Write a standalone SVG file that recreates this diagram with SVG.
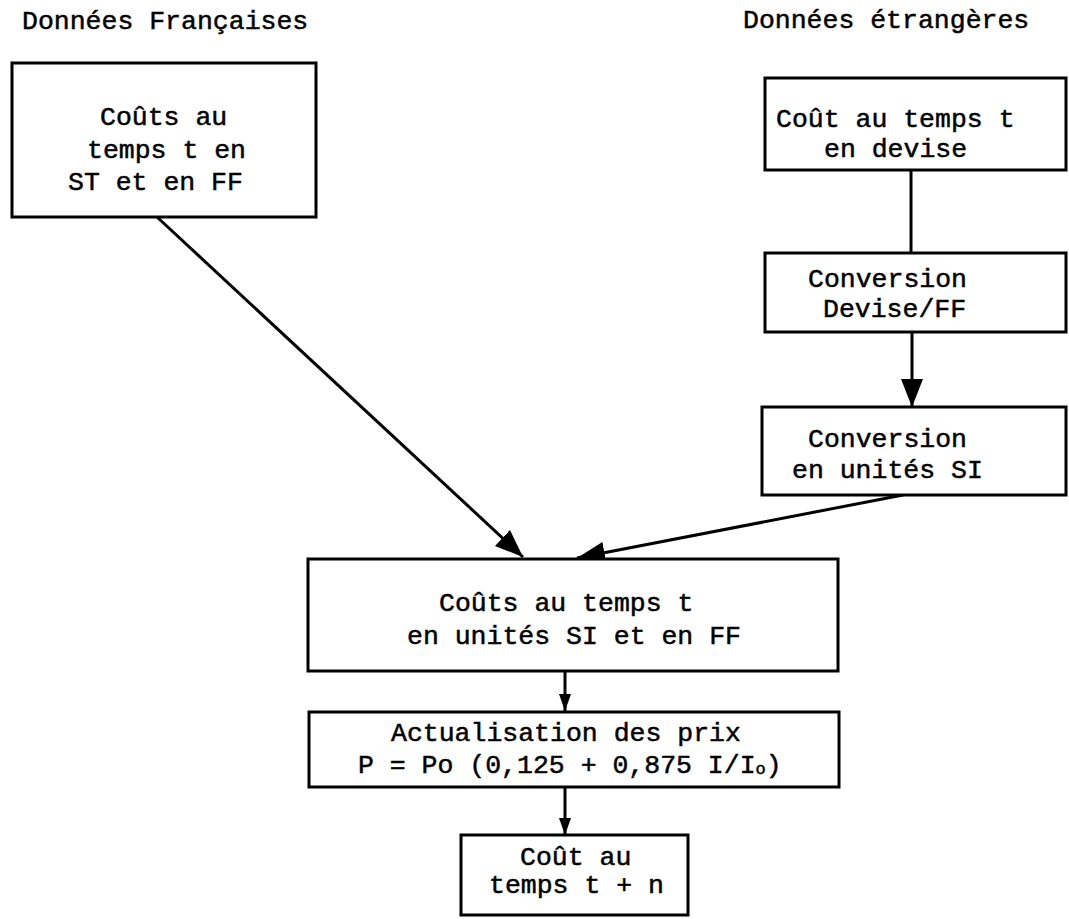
<svg xmlns="http://www.w3.org/2000/svg" width="1069" height="919" viewBox="0 0 1069 919">
<style>
  .bg{fill:#fff}
  .box{fill:#fff;stroke:#000;stroke-width:3}
  .t{font-family:"Liberation Mono","DejaVu Sans Mono",monospace;font-size:26.5px;fill:#000;stroke:#000;stroke-width:0.5}
  .c{stroke:#000;stroke-width:3;fill:none}
</style>
<defs>
  <marker id="big" markerUnits="userSpaceOnUse" markerWidth="30" markerHeight="24" viewBox="0 0 30 24" refX="28" refY="12" orient="auto">
    <path d="M0,1 L28,12 L0,23 Z" fill="#000"/>
  </marker>
  <marker id="small" markerUnits="userSpaceOnUse" markerWidth="18" markerHeight="14" viewBox="0 0 18 14" refX="17" refY="7" orient="auto">
    <path d="M0,1 L17,7 L0,13 Z" fill="#000"/>
  </marker>
</defs>
<rect class="bg" x="0" y="0" width="1069" height="919"/>

<text class="t" x="22" y="29">Données Françaises</text>
<text class="t" x="743" y="28">Données étrangères</text>

<g id="connectors">
  <line class="c" x1="911" y1="170" x2="911" y2="253"/>
  <line class="c" x1="912" y1="332" x2="912" y2="407" marker-end="url(#big)"/>
  <line class="c" x1="157" y1="217" x2="523" y2="557" marker-end="url(#big)"/>
  <line class="c" x1="903" y1="495" x2="577" y2="558" marker-end="url(#big)"/>
  <line class="c" x1="565" y1="671" x2="565" y2="711" marker-end="url(#small)"/>
  <line class="c" x1="565" y1="787" x2="565" y2="835" marker-end="url(#small)"/>
</g>

<g id="n1">
  <rect class="box" x="12" y="63" width="304" height="154"/>
  <text class="t" x="100" y="125">Coûts au</text>
  <text class="t" x="87" y="158">temps t en</text>
  <text class="t" x="68" y="190">ST et en FF</text>
</g>

<g id="n2">
  <rect class="box" x="765" y="78" width="301" height="92"/>
  <text class="t" x="776" y="127">Coût au temps t</text>
  <text class="t" x="824" y="157">en devise</text>
</g>

<g id="n3">
  <rect class="box" x="765" y="253" width="301" height="79"/>
  <text class="t" x="808" y="287">Conversion</text>
  <text class="t" x="823" y="317">Devise/FF</text>
</g>

<g id="n4">
  <rect class="box" x="762" y="407" width="304" height="88"/>
  <text class="t" x="808" y="447">Conversion</text>
  <text class="t" x="792" y="478">en unités SI</text>
</g>

<g id="n5">
  <rect class="box" x="308" y="559" width="530" height="112"/>
  <text class="t" x="439" y="611">Coûts au temps t</text>
  <text class="t" x="407" y="644">en unités SI et en FF</text>
</g>

<g id="n6">
  <rect class="box" x="309" y="712" width="530" height="75"/>
  <text class="t" x="391" y="741">Actualisation des prix</text>
  <text class="t" x="358" y="773">P = Po (0,125 + 0,875 I/I<tspan font-size="17" dy="1">o</tspan><tspan dy="-1">)</tspan></text>
</g>

<g id="n7">
  <rect class="box" x="461" y="835" width="227" height="80"/>
  <text class="t" x="520" y="865">Coût au</text>
  <text class="t" x="489" y="893">temps t + n</text>
</g>
</svg>
